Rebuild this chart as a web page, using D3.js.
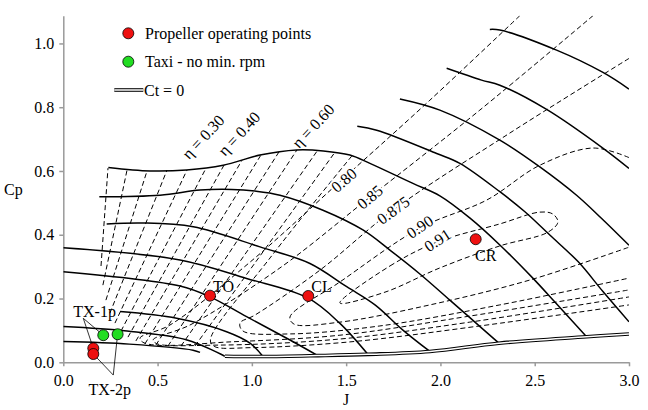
<!DOCTYPE html>
<html lang="en">
<head>
  <meta charset="UTF-8">
  <title>Propeller map</title>
  <script src="https://d3js.org/d3.v7.min.js"></script>
  <style>
    body { margin: 0; background: #fff; }
    svg, svg text { font-family: "Liberation Serif", "Times New Roman", Times, "DejaVu Serif", serif; }
    .axis path, .axis line { stroke: #9a9a9a; stroke-width: 1.5; }
    .axis text { font-size: 16px; fill: #000; }
    .pitch { fill: none; stroke: #000; stroke-width: 1.5; }
    .eta { fill: none; stroke: #000; stroke-width: 1; stroke-dasharray: 5,3; }
    .lbl { font-size: 16px; fill: #000; }
    .halo { paint-order: stroke; stroke: #fff; stroke-width: 4px; }
  </style>
</head>
<body>
  <div id="chart"></div>
  <script>
    // axis ticks
    const jTicks = [0, 0.5, 1.0, 1.5, 2.0, 2.5, 3.0];
    const cpTicks = [0, 0.2, 0.4, 0.6, 0.8, 1.0];

    // constant blade angle lines, [J, Cp]
    const pitchCurves = [
      [[0, 0.065], [0.35, 0.057], [0.688, 0.038], [0.725, 0.031]],
      [[0, 0.112], [0.338, 0.098], [0.656, 0.070], [0.857, 0.019]],
      [[0.301, 0.159], [0.601, 0.138], [0.866, 0.096], [0.99, 0.060], [1.059, 0.018]],
      [[0, 0.284], [0.619, 0.239], [0.778, 0.205], [0.972, 0.143], [1.202, 0.070], [1.350, 0.021]],
      [[0, 0.359], [0.619, 0.321], [0.972, 0.263], [1.299, 0.201], [1.467, 0.122], [1.615, 0.025]],
      [[0.230, 0.434], [0.423, 0.437], [0.689, 0.425], [1.043, 0.362], [1.308, 0.310], [1.503, 0.237],
       [1.653, 0.180], [1.801, 0.101], [1.944, 0.034]],
      [[0.191, 0.519], [0.513, 0.524], [0.725, 0.540], [0.893, 0.542], [1.016, 0.537], [1.149, 0.524],
       [1.377, 0.477], [1.589, 0.415], [1.732, 0.352], [1.891, 0.277], [2.050, 0.195], [2.183, 0.126], [2.310, 0.060]],
      [[0.239, 0.611], [0.460, 0.600], [0.654, 0.603], [0.848, 0.618], [1.043, 0.650], [1.238, 0.666],
       [1.379, 0.663], [1.520, 0.650], [1.626, 0.624], [1.854, 0.561], [1.997, 0.522], [2.157, 0.452],
       [2.315, 0.368], [2.490, 0.264], [2.607, 0.189], [2.775, 0.080]],
      [[1.559, 0.740], [1.662, 0.728], [1.980, 0.655], [2.103, 0.624], [2.315, 0.535], [2.448, 0.472],
       [2.580, 0.399], [2.731, 0.315], [2.863, 0.221], [3.0, 0.127]],
      [[1.785, 0.826], [1.997, 0.791], [2.315, 0.697], [2.527, 0.613], [2.722, 0.524], [2.855, 0.451], [3.0, 0.367]],
      [[2.033, 0.922], [2.218, 0.885], [2.315, 0.869], [2.563, 0.793], [2.863, 0.671], [3.0, 0.608]],
      [[2.262, 1.044], [2.315, 1.042], [2.616, 0.979], [2.862, 0.909], [3.0, 0.857]]
    ];

    // Ct = 0 boundary
    const ctZero = [[0.857, 0.019], [1.059, 0.018], [1.350, 0.021], [1.615, 0.025], [1.944, 0.034],
                    [2.310, 0.060], [2.775, 0.080], [3.0, 0.089]];

    // efficiency lines 0.10 ... 0.70 (bottom end, top end)
    const etaFan = [
      [[0.200, 0.302], [0.237, 0.609]],
      [[0.210, 0.242], [0.338, 0.603]],
      [[0.226, 0.195], [0.444, 0.600]],
      [[0.247, 0.154], [0.550, 0.603]],
      [[0.274, 0.123], [0.656, 0.603]],
      [[0.306, 0.098], [0.757, 0.609]],
      [[0.343, 0.079], [0.852, 0.618]],
      [[0.385, 0.067], [0.948, 0.634]],
      [[0.433, 0.058], [1.048, 0.650]],
      [[0.491, 0.054], [1.144, 0.660]],
      [[0.555, 0.051], [1.239, 0.666]],
      [[0.624, 0.051], [1.350, 0.666]],
      [[0.698, 0.051], [1.441, 0.659]]
    ];

    // high efficiency contours
    const eta075 = [[1.530, 0.647], [1.100, 0.330], [0.780, 0.070], [0.800, 0.050], [1.000, 0.046],
                    [1.520, 0.064], [2.209, 0.114], [3.0, 0.180]];
    const eta080 = [[2.421, 1.087], [1.944, 0.822], [1.488, 0.578], [0.990, 0.314], [0.566, 0.117],
                    [0.407, 0.076], [0.428, 0.061], [0.831, 0.054], [1.467, 0.073], [2.156, 0.126], [3.0, 0.205]];
    const eta085 = [[2.809, 1.087], [2.209, 0.791], [1.626, 0.518], [1.149, 0.296], [0.672, 0.117],
                    [0.476, 0.070], [0.502, 0.057], [0.884, 0.064], [1.467, 0.085], [2.156, 0.145], [3.0, 0.227]];
    const eta0875 = [[3.0, 0.953], [2.368, 0.719], [1.748, 0.477], [1.361, 0.289], [1.016, 0.148],
                     [0.937, 0.123], [0.953, 0.098], [1.202, 0.089], [1.679, 0.114], [2.315, 0.180], [3.0, 0.264]];
    const eta090 = [[3.0, 0.642], [2.809, 0.672], [2.527, 0.618], [2.246, 0.509], [1.891, 0.421],
                    [1.467, 0.252], [1.202, 0.142], [1.223, 0.120], [1.467, 0.126], [1.944, 0.180],
                    [2.474, 0.258], [3.0, 0.361]];
    const eta091 = [[1.467, 0.186], [1.732, 0.302], [1.981, 0.377], [2.315, 0.434], [2.527, 0.471],
                    [2.596, 0.465], [2.623, 0.440], [2.570, 0.408], [2.315, 0.365], [1.997, 0.296], [1.706, 0.220]];

    // contour labels
    const etaNames = ["\u03b7 = 0.30", "\u03b7 = 0.40", "\u03b7 = 0.60"];
    const etaNameJ = [0.667, 0.857, 1.250];
    const etaNameCp = [0.634, 0.644, 0.668];
    const levelNames = ["0.80", "0.85", "0.875", "0.90", "0.91"];
    const levelJ = [1.488, 1.626, 1.750, 1.891, 1.984];
    const levelCp = [0.571, 0.518, 0.477, 0.425, 0.383];
    const levelAngle = [-41, -40, -36, -34, -33];

    // operating points
    const opNames = ["TO", "CL", "CR", "", ""];
    const opJ = [0.778, 1.299, 2.187, 0.159, 0.159];
    const opCp = [0.209, 0.208, 0.386, 0.044, 0.026];
    const taxiJ = [0.212, 0.288];
    const taxiCp = [0.085, 0.088];

    // taxi annotations
    const txNames = ["TX-1p", "TX-2p"];
    const txTextJ = [0.053, 0.133];
    const txTextCp = [0.143, -0.1025];
    const txAnchorJ = [0.106, 0.265];
    const txAnchorCp = [0.138, -0.040];

    const W = 648, H = 410;
    const FONT = "'Liberation Serif', 'Times New Roman', Times, 'DejaVu Serif', serif";
    const svg = d3.select("#chart").append("svg")
      .attr("width", W).attr("height", H)
      .attr("font-family", FONT);

    const x = d3.scaleLinear().domain([0, 3]).range([63.3, 629]);
    const y = d3.scaleLinear().domain([0, 1.087]).range([362.3, 15.7]);

    svg.append("clipPath").attr("id", "plot").append("rect")
      .attr("x", x(0)).attr("y", y(1.087))
      .attr("width", x(3) - x(0)).attr("height", y(0) - y(1.087));

    // axes
    const xAxis = svg.append("g").attr("class", "axis")
      .attr("transform", `translate(0,${y(0)})`)
      .call(d3.axisBottom(x).tickValues(jTicks).tickFormat(d3.format(".1f"))
        .tickSize(4).tickSizeOuter(0).tickPadding(8));
    const yAxis = svg.append("g").attr("class", "axis")
      .attr("transform", `translate(${x(0)},0)`)
      .call(d3.axisLeft(y).tickValues(cpTicks).tickFormat(d3.format(".1f"))
        .tickSize(4).tickSizeOuter(0).tickPadding(5));
    xAxis.attr("font-family", FONT).attr("font-size", 16);
    yAxis.attr("font-family", FONT).attr("font-size", 16);

    svg.append("text").attr("class", "lbl").attr("x", 4).attr("y", 195).text("Cp");
    svg.append("text").attr("class", "lbl").attr("x", 346).attr("y", 405)
      .attr("text-anchor", "middle").text("J");

    const line = d3.line().x(d => x(d[0])).y(d => y(d[1])).curve(d3.curveCatmullRom.alpha(0.5));
    const loop = d3.line().x(d => x(d[0])).y(d => y(d[1])).curve(d3.curveCatmullRomClosed.alpha(0.5));

    const plot = svg.append("g").attr("clip-path", "url(#plot)");

    // dashed efficiency lines
    plot.selectAll(".fan").data(etaFan).join("path")
      .attr("class", "eta").attr("d", line);
    plot.selectAll(".hp").data([eta075, eta080, eta085, eta0875, eta090]).join("path")
      .attr("class", "eta").attr("d", line);
    plot.append("path").attr("class", "eta").attr("d", loop(eta091));

    // blade angle lines
    plot.selectAll(".pc").data(pitchCurves).join("path")
      .attr("class", "pitch").attr("d", line);

    // Ct = 0 double line
    plot.append("path").attr("d", line(ctZero))
      .attr("fill", "none").attr("stroke", "#000").attr("stroke-width", 3.6);
    plot.append("path").attr("d", line(ctZero))
      .attr("fill", "none").attr("stroke", "#fff").attr("stroke-width", 1.5);

    // contour labels
    svg.selectAll(".etaName").data(etaNames).join("text")
      .attr("class", "lbl")
      .attr("transform", (d, i) => `translate(${x(etaNameJ[i])},${y(etaNameCp[i])}) rotate(-47)`)
      .text(d => d);
    svg.selectAll(".lvl").data(levelNames).join("text")
      .attr("class", "lbl halo")
      .attr("text-anchor", "middle").attr("dominant-baseline", "central")
      .attr("transform", (d, i) => `translate(${x(levelJ[i])},${y(levelCp[i])}) rotate(${levelAngle[i]})`)
      .text(d => d);

    // taxi leader lines
    const lead = svg.append("g").attr("stroke", "#000").attr("stroke-width", 0.8);
    lead.append("line").attr("x1", x(txAnchorJ[0])).attr("y1", y(txAnchorCp[0]))
      .attr("x2", x(opJ[3])).attr("y2", y(opCp[3]));
    lead.append("line").attr("x1", x(txAnchorJ[0])).attr("y1", y(txAnchorCp[0]))
      .attr("x2", x(taxiJ[0])).attr("y2", y(taxiCp[0]));
    lead.append("line").attr("x1", x(txAnchorJ[1])).attr("y1", y(txAnchorCp[1]))
      .attr("x2", x(opJ[4])).attr("y2", y(opCp[4]));
    lead.append("line").attr("x1", x(txAnchorJ[1])).attr("y1", y(txAnchorCp[1]))
      .attr("x2", x(taxiJ[1])).attr("y2", y(taxiCp[1]));

    svg.selectAll(".tx").data(txNames).join("text")
      .attr("class", "lbl")
      .attr("x", (d, i) => x(txTextJ[i])).attr("y", (d, i) => y(txTextCp[i]))
      .text(d => d);

    // points
    svg.selectAll(".taxi").data(taxiJ).join("circle")
      .attr("cx", (d, i) => x(taxiJ[i])).attr("cy", (d, i) => y(taxiCp[i])).attr("r", 5.5)
      .attr("fill", "#22dd22").attr("stroke", "#000").attr("stroke-width", 0.8);
    svg.selectAll(".op").data(opNames).join("circle")
      .attr("cx", (d, i) => x(opJ[i])).attr("cy", (d, i) => y(opCp[i])).attr("r", 5.5)
      .attr("fill", "#ee1111").attr("stroke", "#000").attr("stroke-width", 0.8);

    svg.selectAll(".opl").data(opNames.slice(0, 3)).join("text")
      .attr("class", "lbl")
      .attr("text-anchor", (d, i) => i === 2 ? "middle" : "start")
      .attr("x", (d, i) => x(opJ[i]) + (i === 2 ? 10 : 3))
      .attr("y", (d, i) => y(opCp[i]) + (i === 2 ? 22 : -4))
      .text(d => d);

    // legend
    const leg = svg.append("g");
    leg.append("circle").attr("cx", 128.3).attr("cy", 33.3).attr("r", 5.5)
      .attr("fill", "#ee1111").attr("stroke", "#000").attr("stroke-width", 0.8);
    leg.append("text").attr("class", "lbl").attr("x", 145).attr("y", 38.5).text("Propeller operating points");
    leg.append("circle").attr("cx", 128.3).attr("cy", 61.7).attr("r", 5.5)
      .attr("fill", "#22dd22").attr("stroke", "#000").attr("stroke-width", 0.8);
    leg.append("text").attr("class", "lbl").attr("x", 145).attr("y", 67).text("Taxi - no min. rpm");
    leg.append("line").attr("x1", 114.3).attr("x2", 143.3).attr("y1", 90).attr("y2", 90)
      .attr("stroke", "#000").attr("stroke-width", 3.6);
    leg.append("line").attr("x1", 114.3).attr("x2", 143.3).attr("y1", 90).attr("y2", 90)
      .attr("stroke", "#fff").attr("stroke-width", 1.5);
    leg.append("text").attr("class", "lbl").attr("x", 144).attr("y", 96).text("Ct = 0");
  </script>
</body>
</html>
